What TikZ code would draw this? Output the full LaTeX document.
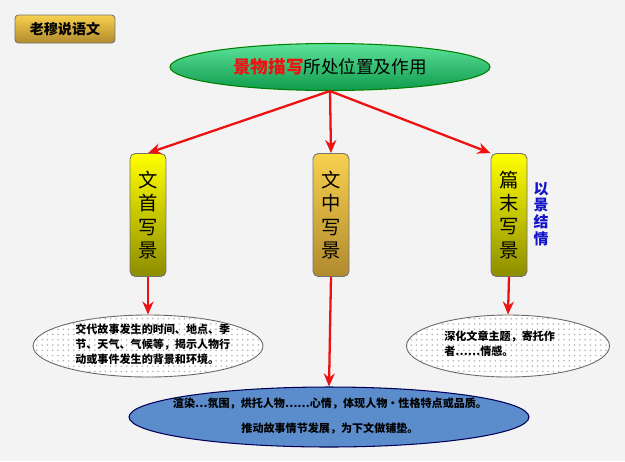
\documentclass[tikz,border=0pt]{standalone}
\usepackage{fontspec}
\newfontfamily\cjk{Noto Sans CJK SC}
\usetikzlibrary{arrows.meta,patterns,shapes.geometric}
\definecolor{pagebg}{HTML}{F3F3F3}
\definecolor{linkred}{HTML}{EE1111}
\definecolor{inkblue}{HTML}{1414C8}
\definecolor{goldtop}{HTML}{F8D04E}
\definecolor{goldbot}{HTML}{B08A2E}
\definecolor{greentop}{HTML}{5CE39A}
\definecolor{greenbot}{HTML}{0F9A4C}
\definecolor{ovalblue}{HTML}{5B8DCC}

\begin{document}
\begin{tikzpicture}[x=0.02cm,y=-0.02cm]
\tikzset{
  tagbox/.style={draw=black!55,line width=0.5pt,rounded corners=2pt,top color=goldtop,bottom color=goldbot,minimum width=2cm,minimum height=0.56cm,inner sep=0pt,font=\cjk\bfseries\fontsize{8}{9}\selectfont},
  titleoval/.style={ellipse,draw=black!50!green,line width=0.6pt,top color=greentop,bottom color=greenbot,minimum width=6.4cm,minimum height=0.94cm,inner sep=0pt,font=\cjk\fontsize{10}{12}\selectfont},
  placebox/.style={draw=black!55,line width=0.5pt,rounded corners=3pt,minimum width=0.72cm,minimum height=2.46cm,inner sep=0pt,align=center,font=\cjk\fontsize{11}{13.2}\selectfont},
  yellowbox/.style={placebox,top color=yellow,bottom color=yellow!55!black},
  goldbox/.style={placebox,top color=goldtop,bottom color=goldbot},
  dotoval/.style={ellipse,draw=black!60,line width=0.5pt,fill=white,postaction={pattern=dots,pattern color=black!30},inner sep=0pt},
  blueoval/.style={ellipse,draw=blue!35!black,line width=0.6pt,fill=ovalblue,inner sep=0pt},
  note/.style={align=left,inner sep=0pt,font=\cjk\bfseries\fontsize{6.3}{8.4}\selectfont},
  link/.style={draw=linkred,line width=1.3pt,-{Stealth[length=2.6mm,width=2.2mm]}}
}
\fill[pagebg] (0,0) rectangle (625,461);
\node[tagbox] (n_tag) at (65,29) {老穆说语文};
\node[titleoval] (n_top) at (330,67) {\textcolor{linkred}{\bfseries 景物描写}所处位置及作用};
\node[yellowbox] (n_head) at (148,215) {文\\首\\写\\景};
\node[goldbox] (n_mid) at (331,215) {文\\中\\写\\景};
\node[yellowbox] (n_end) at (509,215) {篇\\末\\写\\景};
\node[align=center,text=inkblue,inner sep=0pt,font=\cjk\bfseries\fontsize{8.5}{9.6}\selectfont] (n_side) at (541,214) {以\\景\\结\\情};
\node[dotoval,minimum width=4.6cm,minimum height=1.24cm] (n_headnote) at (148,346) {};
\node[note,anchor=north west] (n_headtext) at (75,324) {交代故事发生的时间、地点、季\\节、天气、气候等，揭示人物行\\动或事件发生的背景和环境。};
\node[dotoval,minimum width=4.06cm,minimum height=1.24cm] (n_endnote) at (508,346) {};
\node[note,anchor=north west] (n_endtext) at (444,331) {深化文章主题，寄托作\\者……情感。};
\node[blueoval,minimum width=8.0cm,minimum height=1.2cm] (n_midnote) at (329,417) {};
\node[note,align=center] (n_midtext) at (330,416) {渲染…氛围，烘托人物……心情，体现人物·性格特点或品质。\\[1.6ex]推动故事情节发展，为下文做铺垫。};
\draw[link] (n_top.south) -- (n_head.north);
\draw[link] (n_top.south) -- (n_mid.north);
\draw[link] (n_top.south) -- (n_end.north west);
\draw[link] (n_head.south) -- (n_headnote.north);
\draw[link] (n_mid.south) -- (n_midnote.north);
\draw[link] (n_end.south) -- (n_endnote.north);
\end{tikzpicture}
\end{document}
